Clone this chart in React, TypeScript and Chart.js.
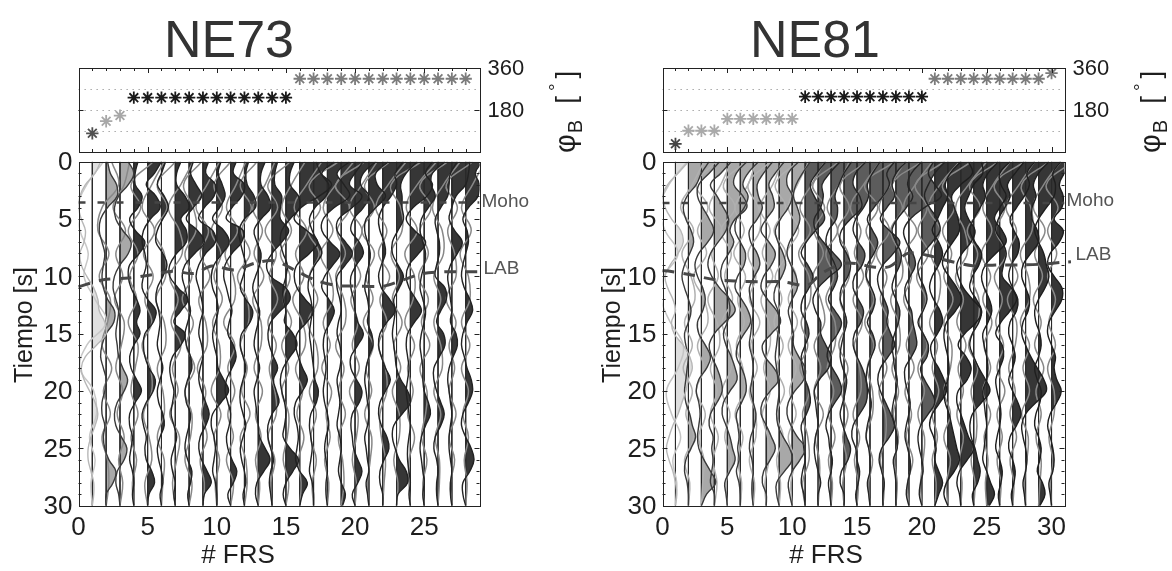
import React, { useEffect, useRef } from 'react';
import { Chart, registerables } from 'chart.js';

Chart.register(...registerables);

const FONT = '"Liberation Sans", Arial, Helvetica, sans-serif';

// ---------------- DATA ----------------
// sample times (s) of the radial (filled) traces and of the grey traces
const TIME_R = [0,1,2,3,4,5,6,7,8,9,10,11,12,13,14,15,16,17,18,19,20,21,22,23,24,25,26,27,28,29,30];
const TIME_T = [0,2,4,6,8,10,12,14,16,18,20,22,24,26,28,30];

// back-azimuth of each receiver function (deg)
const NE73_PHI = [80,132,156,233,233,233,233,233,233,233,233,233,233,233,233,314,314,314,314,314,314,314,314,314,314,314,314,314];
const NE81_PHI = [35,91,91,91,142,142,142,142,142,142,237,237,237,237,237,237,237,237,237,237,314,314,314,314,314,314,314,314,314,338];

// colour group of each trace
const NE73_GROUP = [0,1,1,2,2,2,2,2,2,2,2,2,2,2,2,3,3,3,3,3,3,3,3,3,3,3,3,3];
const NE81_GROUP = [0,1,1,1,1,1,1,1,1,1,2,2,2,2,2,2,2,2,2,2,3,3,3,3,3,3,3,3,3,3];

// Moho / LAB picks (trace position, time s)
const NE73_MOHO_X = [0, 29];
const NE73_MOHO_T = [3.55, 3.55];
const NE81_MOHO_X = [0, 31];
const NE81_MOHO_T = [3.6, 3.6];
const NE73_LAB_X = [0,1.8,3.6,5.1,6.8,8.35,9.66,11.3,12.76,14.2,15.86,17.3,18.7,20.1,22.06,23.5,24.9,26.6,28.26,29];
const NE73_LAB_T = [10.9,10.3,10.15,9.9,9.55,9.75,9.1,9.45,8.85,8.65,9.6,10.4,10.8,10.85,10.85,10.3,9.75,9.6,9.6,9.6];
const NE81_LAB_X = [0,0.45,2.25,4.05,5.6,7.4,9.2,11.2,12.25,14.05,15.3,15.97,17.5,18.9,20.3,22.1,23.9,25.7,27.5,29.05,30.8,31.5];
const NE81_LAB_T = [9.5,9.53,9.88,10.3,10.4,10.47,10.47,10.76,9.74,8.86,8.95,9.15,9.15,8.0,8.13,8.66,9.07,9.0,9.0,8.95,8.78,8.72];

// axis ticks
const TIME_TICKS = [0,5,10,15,20,25,30];
const NE73_X_TICKS = [0,5,10,15,20,25];
const NE81_X_TICKS = [0,5,10,15,20,25,30];
const PHI_LABELS = [180,360];
const PHI_GRID = [90,180,270];

// radial receiver functions, amplitude in trace units, sampled at TIME_R
const NE73_R = [
[0.6,0.2,-0.5,-0.9,-1.0,-0.8,-0.5,-0.6,-0.9,-0.8,-0.4,0.1,0.4,0.5,0.9,1.0,0.3,-0.5,-0.8,-0.6,-0.2,0.2,0.4,0.2,-0.1,-0.3,-0.3,-0.1,0.1,0.1,0],
[0.1,0.3,0.75,0.8,0.1,-0.4,-0.5,-0.3,-0.1,-0.2,-0.3,-0.2,0.1,0.6,0.55,0,-0.3,-0.4,-0.2,0,-0.1,-0.3,-0.3,-0.1,-0.2,-0.1,0.2,0.7,0.5,0,0],
[0.6,1.0,0.6,-0.1,-0.4,-0.3,0.2,0.8,0.6,0,-0.4,-0.5,-0.3,-0.1,-0.2,-0.3,-0.2,-0.1,0.2,0.55,0.3,-0.2,-0.4,-0.3,0.1,0.5,0.3,-0.2,-0.3,-0.1,0],
[0.3,0.1,0.1,0.6,0.3,-0.3,0.1,0.8,0.4,-0.3,-0.4,-0.2,0.2,0.45,0.2,0.45,0,-0.3,-0.2,0.2,0.55,0.1,-0.3,-0.3,-0.1,-0.2,-0.3,-0.1,0,-0.1,0],
[1.0,0.5,-0.1,0.6,0.9,0.2,-0.3,-0.4,-0.2,-0.1,-0.3,-0.4,0,0.6,0.4,-0.2,-0.3,-0.2,0.1,0.55,0.4,-0.1,-0.4,-0.3,-0.1,-0.2,-0.1,0.3,0.5,0.1,0],
[0.3,0,-0.3,0.2,0.5,0.1,-0.3,-0.4,0.1,0.4,0.1,-0.3,-0.4,-0.2,-0.1,-0.2,-0.3,-0.1,0.1,-0.1,-0.3,-0.2,0.1,0.2,-0.1,-0.3,-0.2,0,0.1,-0.1,0],
[0.4,0.1,0.1,0.7,1.0,0.4,0.8,0.8,0.1,-0.4,-0.4,0.2,0.9,0.4,-0.1,0.7,0.4,-0.2,-0.4,-0.3,-0.1,-0.2,-0.3,-0.1,0.1,-0.1,-0.3,-0.2,0,-0.1,0],
[0.3,0.1,0.5,0.9,0.3,-0.2,0.6,1.1,0.4,-0.3,-0.5,-0.3,-0.1,0.1,-0.1,-0.3,-0.2,0.1,0.2,-0.1,-0.3,-0.2,0.1,0,-0.2,-0.3,-0.1,0.2,0.1,-0.1,0],
[0.4,0.2,0.9,0.8,0.1,-0.3,0.7,0.9,0.2,-0.3,-0.5,-0.3,-0.1,0,-0.2,-0.3,-0.1,0,-0.2,-0.3,-0.1,0.2,0.45,0.2,-0.2,-0.3,-0.1,0.3,0.6,0.1,0],
[0.3,0.1,0.4,0.6,0.2,-0.3,0.5,0.9,0.4,-0.2,-0.4,-0.3,0,0.1,-0.1,-0.3,-0.2,0,0.1,0.5,0.85,0.3,-0.3,-0.4,-0.2,-0.1,-0.2,-0.3,-0.1,0,0],
[0.4,0.2,1.0,0.8,0.1,-0.3,0.9,0.8,0.1,-0.4,-0.5,-0.3,-0.1,0.1,-0.1,-0.2,0.2,0.4,0.1,-0.3,-0.4,-0.2,0,-0.1,-0.3,-0.2,0.1,0.45,0.2,-0.2,0],
[0.3,0.1,0.2,0.7,0.8,0,-0.4,-0.3,-0.1,0.1,-0.1,-0.3,0.1,0.6,0.4,-0.2,-0.3,-0.1,0.1,-0.1,-0.3,-0.3,-0.1,0.1,-0.1,-0.3,-0.2,0,0.1,-0.1,0],
[0.5,0.2,0.2,0.7,0.9,0.2,-0.3,-0.1,0.2,0.1,-0.2,-0.4,-0.2,0.1,0,-0.2,-0.3,-0.1,0.1,-0.1,-0.3,-0.2,-0.1,0,0.1,0.5,0.85,0.4,-0.1,-0.2,0],
[0.4,0.2,0.2,0.7,0.6,0.6,1.2,0.7,0,-0.4,-0.1,1.0,1.3,0.6,-0.1,-0.3,-0.2,0.1,0.4,0.1,0.3,0.5,0,-0.3,-0.3,-0.1,0.1,-0.1,-0.2,-0.1,0],
[0.6,0.3,0.3,0.9,1.0,0.3,-0.3,-0.4,-0.2,0.1,0,-0.2,-0.2,0,-0.1,0.5,0.8,0.3,-0.2,-0.4,-0.3,-0.1,0,-0.1,-0.2,0.3,0.9,0.5,0,-0.2,0],
[1.2,1.5,2.3,1.4,0.1,-0.4,0.5,1.3,0.7,-0.2,-0.4,-0.2,0.4,1.0,0.5,-0.2,-0.3,-0.1,0.2,0.55,0.2,-0.3,-0.4,-0.2,-0.1,-0.2,-0.3,0,0.55,0.2,0],
[1.5,0.6,1.1,0.9,0.1,-0.3,-0.1,0.3,0.6,0.1,-0.3,-0.4,-0.2,-0.1,-0.2,-0.3,-0.2,-0.1,0,0.1,0.35,0.2,-0.2,-0.3,-0.2,-0.1,-0.2,-0.3,-0.1,0,0],
[1.6,0.7,1.2,1.6,0.5,-0.3,-0.4,0.2,0.9,0.4,-0.2,-0.4,0.1,0.5,0.2,-0.2,-0.3,-0.2,-0.1,-0.2,-0.3,-0.2,0,0.1,-0.1,-0.2,-0.1,0,-0.1,-0.1,0],
[1.6,1.0,0.6,1.5,0.8,-0.2,-0.3,0.3,0.8,0.3,-0.3,-0.3,-0.1,0,-0.2,-0.3,-0.1,0,-0.1,-0.3,-0.2,-0.1,-0.2,-0.3,-0.1,0,-0.1,-0.2,0,0.3,0.1],
[1.5,0.6,0.4,1.0,0.6,-0.1,-0.3,0.3,0.6,0.1,-0.3,-0.3,-0.1,0,0.2,0.6,0.2,-0.3,-0.3,0.1,0.5,0.3,-0.2,-0.3,-0.2,-0.1,0.2,0.5,0.2,-0.2,0],
[1.4,0.5,0.6,1.2,0.5,-0.2,-0.3,-0.1,0.1,0,-0.2,-0.3,-0.1,0,-0.1,0.2,0.3,0,-0.2,-0.3,-0.2,-0.1,0,-0.1,-0.3,-0.2,-0.1,0,-0.2,-0.1,0],
[1.5,0.9,1.0,0.6,0,-0.3,-0.2,0.1,0.2,-0.1,-0.3,-0.1,0.5,0.9,0.3,-0.2,-0.3,-0.1,0.2,0.55,0.2,-0.2,-0.3,-0.1,0.3,0.45,0.1,-0.2,-0.2,0,0],
[1.5,0.7,0.3,0.4,0.4,0.5,0.1,-0.3,-0.3,0.1,0.5,0.2,-0.2,-0.1,-0.2,-0.3,-0.2,-0.1,0,0.3,0.8,1.0,0.4,-0.2,-0.3,-0.1,0.2,0.7,0.8,0.1,0],
[1.6,1.1,1.6,1.2,0.2,-0.3,0.3,1.1,0.6,-0.1,-0.3,-0.1,0.4,0.8,0.3,-0.2,-0.3,-0.2,-0.1,-0.2,-0.3,-0.2,-0.1,0,-0.1,-0.2,-0.2,-0.1,0,-0.1,0],
[1.5,0.6,0.5,0.8,0.3,-0.2,-0.3,-0.1,0.1,0,-0.2,-0.3,-0.1,0.1,0,-0.2,-0.3,-0.2,-0.1,-0.1,0,0.3,0.45,0.1,-0.2,-0.3,-0.2,-0.1,0,-0.1,0],
[1.4,0.9,0.8,0.7,0.2,-0.2,-0.1,0.1,0.1,-0.1,-0.2,0.5,0.6,0.2,-0.1,0.4,0.5,0.1,-0.3,-0.3,-0.1,0.2,0.45,0.2,-0.2,-0.3,-0.1,0,-0.1,-0.1,0],
[1.3,1.2,1.0,0.3,0,-0.2,0.2,0.75,0.4,-0.1,-0.3,-0.2,-0.1,0,-0.1,0.3,0.4,0.1,-0.2,-0.3,-0.2,-0.1,0,-0.1,-0.2,-0.2,-0.1,0,-0.1,-0.1,0],
[1.2,0.7,1.0,0.9,0.2,-0.2,0.1,0.2,0,-0.2,-0.3,-0.1,0.3,0.5,0.1,-0.2,-0.3,-0.1,0.1,0.4,0.5,0.2,-0.2,-0.3,0,0.4,0.6,0.3,-0.2,-0.2,0],
];

// grey (transverse) traces, sampled at TIME_T
const NE73_T = [
[0.8,-0.4,-1.1,-0.9,-0.3,-0.6,0.2,1.0,-0.4,-0.9,0.1,0.3,-0.2,0.2,-0.1,0],
[0.4,0.9,-0.3,-0.6,0.2,-0.5,0.3,0.1,-0.3,0.4,-0.2,0.3,-0.3,0.1,0.2,0],
[0.7,0.3,-0.5,0.4,-0.3,0.2,-0.4,0.3,0.1,-0.3,0.2,-0.2,0.3,-0.1,0.2,0],
[1.4,-0.2,0.5,-0.4,0.3,-0.3,0.2,-0.4,0.3,0.1,-0.2,0.3,-0.2,0.2,-0.1,0],
[1.2,0.3,-0.4,0.5,-0.3,0.4,-0.2,0.3,-0.4,0.2,0.3,-0.3,0.1,0.3,-0.2,0],
[1.0,-0.3,0.4,-0.5,0.2,0.3,-0.4,0.2,0.3,-0.3,0.1,0.2,-0.3,0.2,0.1,0],
[1.3,0.4,-0.5,0.3,0.5,-0.4,0.2,-0.3,0.4,-0.2,0.2,-0.4,0.3,0.1,-0.2,0],
[0.9,-0.4,0.3,0.5,-0.3,0.2,-0.5,0.3,-0.2,0.4,-0.3,0.2,0.1,-0.3,0.2,0],
[1.2,0.3,-0.5,0.4,-0.2,0.5,-0.3,0.2,0.3,-0.4,0.2,-0.1,0.3,-0.2,0.1,0],
[1.0,-0.2,0.4,-0.4,0.3,-0.2,0.4,-0.3,0.2,0.2,-0.4,0.3,-0.2,0.2,-0.1,0],
[1.1,0.4,-0.3,0.5,-0.4,0.2,0.3,-0.5,0.3,-0.2,0.3,-0.2,0.2,-0.3,0.2,0],
[0.9,-0.3,0.5,-0.2,0.4,-0.5,0.2,0.3,-0.3,0.2,-0.2,0.4,-0.3,0.1,0.2,0],
[1.2,0.5,-0.4,0.3,-0.3,0.4,-0.4,0.2,0.2,-0.3,0.3,-0.2,0.2,-0.2,0.1,0],
[1.3,-0.3,0.4,-0.5,0.3,-0.2,0.4,-0.3,0.3,-0.2,0.2,0.3,-0.3,0.2,-0.1,0],
[1.4,0.4,-0.3,0.4,-0.4,0.3,-0.2,0.4,-0.3,0.2,-0.3,0.2,0.1,-0.2,0.2,0],
[1.6,0.5,-0.4,0.5,-0.3,0.3,-0.5,0.2,0.4,-0.3,0.2,-0.2,0.3,-0.1,0.1,0],
[1.8,-0.3,0.5,-0.4,0.4,-0.3,0.3,-0.4,0.2,0.3,-0.3,0.2,-0.2,0.2,-0.1,0],
[1.9,0.6,-0.3,0.4,-0.5,0.2,0.4,-0.3,0.2,-0.4,0.3,-0.1,0.2,-0.2,0.1,0],
[1.7,-0.4,0.6,-0.3,0.3,-0.4,0.2,0.3,-0.4,0.2,-0.2,0.3,-0.2,0.1,0.2,0],
[1.6,0.5,-0.4,0.5,-0.2,0.4,-0.3,0.2,-0.2,0.3,-0.4,0.2,0.1,-0.2,0.1,0],
[1.5,-0.3,0.4,-0.5,0.4,-0.2,0.3,-0.4,0.3,-0.2,0.2,-0.3,0.2,0.1,-0.1,0],
[1.7,0.4,-0.5,0.3,-0.3,0.5,-0.2,0.3,-0.3,0.2,0.3,-0.2,-0.1,0.2,0.1,0],
[1.8,-0.4,0.3,0.4,-0.4,0.2,-0.3,0.4,-0.2,0.3,-0.3,0.2,0.2,-0.2,0.1,0],
[1.9,0.5,-0.3,0.5,-0.4,0.3,0.2,-0.4,0.3,-0.2,0.2,-0.2,0.3,-0.1,-0.1,0],
[1.7,-0.3,0.5,-0.3,0.3,-0.4,0.3,-0.2,0.4,-0.3,0.2,0.1,-0.2,0.2,-0.1,0],
[1.6,0.4,-0.4,0.3,0.4,-0.3,0.2,-0.3,0.2,0.3,-0.3,0.2,-0.2,0.1,0.1,0],
[1.5,-0.4,0.4,-0.3,0.2,0.3,-0.4,0.3,-0.2,0.2,-0.2,0.3,-0.2,0.2,-0.1,0],
[1.4,0.5,-0.3,0.4,-0.4,0.2,0.3,-0.3,0.3,-0.3,0.2,-0.2,0.2,-0.1,0.1,0],
];

const NE81_R = [
[1.0,0.2,-0.6,-1.0,-0.8,-0.3,0.4,0.6,0.2,-0.4,-0.8,-0.6,-0.2,0,-0.3,-0.1,0.6,1.1,1.3,1.0,0.8,0.5,0.2,-0.2,-0.5,-0.7,-0.5,-0.2,0,0.1,0],
[1.6,1.0,0.6,-0.1,-0.4,-0.2,0.2,0.4,0.1,-0.3,-0.5,-0.3,0,0.2,0,-0.3,-0.2,0,-0.1,-0.2,-0.3,-0.2,0.1,0.3,0.55,0.2,-0.2,-0.3,-0.1,0,0],
[1.4,0.6,-0.2,-0.3,0.1,0.6,0.95,0.5,-0.2,-0.5,-0.3,0.1,0.3,0.1,-0.3,-0.2,0.3,0.7,0.4,-0.2,-0.4,-0.2,-0.1,-0.2,-0.3,-0.2,0.2,0.7,1.1,0.4,0],
[1.3,0.5,-0.3,0.2,0.7,1.1,0.9,0.3,-0.3,-0.5,-0.2,0.4,1.2,1.6,0.8,0,-0.4,-0.2,0.2,0.5,0.6,0.2,-0.3,-0.4,-0.1,-0.2,-0.1,-0.2,-0.3,0,0],
[1.5,0.7,0.5,1.2,1.5,0.6,0.2,0.5,0.1,-0.4,-0.5,-0.2,0.1,0.2,0,-0.3,-0.1,0.3,0.6,0.75,0.2,-0.3,-0.4,-0.1,0.2,0.4,0.6,0.2,-0.2,-0.1,0],
[1.4,0.6,0.2,0.6,0.3,-0.3,-0.4,0,0.4,0.3,-0.2,-0.4,0.1,0.6,0.8,0.3,-0.2,-0.3,0.1,0.4,0.45,0.1,-0.3,-0.2,-0.1,-0.2,-0.1,-0.3,-0.1,0,0],
[1.5,0.8,0.3,0.4,0.7,0.3,-0.3,-0.2,0.3,0.5,0.1,-0.3,-0.2,0,-0.1,-0.2,-0.3,-0.1,0,-0.1,-0.2,0,0.2,0.1,-0.2,-0.3,-0.1,0,-0.1,-0.1,0],
[1.4,0.7,0.2,0.5,0.6,0,-0.4,0.2,0.7,0.4,-0.2,-0.4,0.1,0.8,1.1,0.4,-0.3,-0.1,0.6,0.95,0.3,-0.3,-0.4,0,0.4,0.7,0.3,-0.2,-0.3,0,0],
[1.5,0.7,0.6,1.0,0.7,0.1,-0.3,-0.1,0.3,0.5,0.2,-0.3,-0.4,-0.1,0,-0.1,-0.2,-0.3,-0.2,-0.1,0,-0.1,-0.2,-0.1,0.3,0.8,1.0,0.4,-0.2,-0.2,0],
[1.4,0.8,0.3,0.1,0.4,0.6,0.3,-0.2,-0.4,-0.1,0.3,0.4,0,-0.3,-0.1,0.1,0.1,0.5,1.0,0.9,0.2,-0.3,-0.4,-0.1,0.4,1.0,0.6,0,-0.3,-0.2,0],
[1.6,0.9,0.4,0.7,1.2,1.5,0.8,0.1,-0.3,0.2,0.6,0.3,-0.2,-0.3,0.1,0.3,0,-0.3,-0.2,0,0.3,0.4,0.1,-0.3,-0.2,-0.1,0,-0.2,-0.3,-0.1,0],
[1.7,0.9,0.3,0.4,0.2,-0.3,-0.2,0.4,1.2,1.8,0.9,0,-0.4,-0.2,0.2,0.2,0.6,1.0,0.8,0.1,-0.3,-0.2,-0.1,0,-0.2,-0.3,-0.2,0,0.2,0,0],
[1.6,1.0,0.6,0.3,0.5,0.4,-0.2,-0.4,-0.1,0.3,0.5,0.2,-0.2,0.3,0.8,0.5,-0.1,-0.3,0.1,0.6,0.8,0.3,-0.2,-0.4,-0.2,-0.1,0.1,0,-0.2,-0.1,0],
[1.7,0.9,0.7,1.2,1.35,0.5,-0.2,-0.3,0.2,0.5,0.3,-0.2,-0.3,0,0.2,0,-0.2,-0.3,-0.1,0.2,0.1,-0.1,-0.3,-0.1,0.2,0.5,0.3,-0.2,-0.3,0,0],
[1.8,1.2,0.8,0.9,0.5,-0.1,-0.3,0.1,0.6,0.4,-0.2,-0.3,0.1,0.5,0.3,-0.2,-0.3,0,0.4,0.7,0.8,0.7,0.2,-0.3,-0.4,-0.1,0,0.2,0.1,-0.1,0],
[1.9,1.3,1.5,1.0,0.3,-0.2,0.2,0.6,0.3,-0.2,-0.3,0.1,0.4,0.2,-0.2,0.2,0.4,0.1,-0.2,-0.3,-0.1,0.1,0,-0.2,-0.3,-0.1,0,0,-0.2,-0.1,0],
[1.8,1.0,0.7,0.9,0.3,-0.2,0.5,1.3,0.8,0,-0.4,-0.3,0.1,0.4,0.3,0.6,0.9,0.4,-0.2,-0.4,-0.2,0.2,0.6,0.9,0.5,-0.1,-0.3,-0.1,0.1,0,0],
[2.0,1.2,0.9,1.3,0.8,0.1,-0.3,0,0.4,0.3,-0.1,-0.3,0,0.3,0.2,-0.1,-0.3,-0.2,-0.1,0.1,0,-0.2,-0.3,-0.1,0.1,0.1,-0.2,-0.1,0,0,0],
[1.9,1.5,2.0,2.5,1.2,0.1,-0.4,-0.2,0.3,0.5,0.1,-0.3,-0.2,0.2,0.3,0.5,0.6,0.2,-0.3,-0.3,-0.1,0.1,0,-0.2,-0.3,-0.1,0.1,0.1,-0.1,-0.2,0],
[1.8,1.0,0.5,0.2,0.6,1.2,1.4,0.8,0.1,-0.3,-0.2,0.2,0.4,0.1,-0.3,0.1,0.5,0.4,-0.1,0.2,0.7,1.0,0.5,-0.1,-0.3,-0.2,0,0.1,-0.1,-0.2,0],
[2.0,1.2,0.8,1.0,0.6,0.2,-0.2,0.3,0.6,0.3,-0.2,-0.4,-0.1,0.4,0.6,0.2,-0.3,-0.2,0.3,0.7,0.9,0.4,-0.2,-0.4,-0.1,0.1,0,0.3,0.6,0.3,0],
[1.6,1.9,1.0,0.3,0.5,0.8,0.9,0.4,-0.2,-0.4,0.1,0.7,1.05,0.6,-0.1,-0.3,-0.2,0,0.1,0,-0.3,-0.2,0.1,0.3,0.5,0.7,0.9,0.5,-0.1,-0.3,0],
[1.6,1.7,1.0,0.6,0.3,0.6,1.1,0.8,0.1,-0.3,-0.2,0.2,0.9,1.6,1.2,0.3,-0.2,0.4,0.8,0.5,-0.2,-0.3,0,0.3,0.6,1.0,0.5,-0.1,-0.3,-0.1,0],
[1.9,1.1,0.7,0.9,0.5,0,-0.3,0.1,0.6,0.4,-0.1,-0.3,0.2,0.6,0.4,-0.1,-0.3,0,0.4,0.9,1.25,0.6,-0.1,-0.3,-0.2,0.1,0.3,0.5,0.3,-0.1,0],
[1.8,1.0,1.1,1.5,1.0,0.6,1.2,1.5,0.7,-0.1,-0.4,-0.2,0.2,0.4,0.1,-0.3,-0.2,0,0.1,0,-0.3,-0.2,-0.1,0,-0.1,-0.2,-0.3,0,0.3,0.6,0.2],
[1.9,1.2,0.6,0.8,0.4,-0.1,-0.3,0.2,0.5,0.3,0.2,0.9,1.3,0.8,0.1,-0.3,0.2,0.3,0,-0.3,-0.2,0,0.1,0,-0.2,-0.3,0,0.2,0.1,-0.1,0],
[1.7,1.1,1.3,0.9,0.3,-0.2,0.1,0.5,0.4,-0.1,-0.3,0,0.4,0.3,-0.2,-0.3,0,0.2,0,-0.3,0,0.4,0.65,0.3,-0.2,-0.3,0,0.2,0.1,-0.1,0],
[1.8,1.0,0.6,0.8,0.5,0.5,0.9,1.0,0.4,-0.2,-0.3,0,0.3,0.2,-0.2,-0.3,0,0.4,0.9,1.4,1.6,0.8,0,-0.3,-0.2,0,0.1,0,-0.2,-0.1,0],
[1.7,1.1,1.3,1.2,0.6,0,-0.3,0,0.4,0.6,0.8,0.5,0,-0.3,-0.2,0.1,0.2,0,-0.3,-0.1,0.2,0.1,-0.2,-0.3,0,0.2,0.1,-0.1,0.3,0.5,0.1],
[1.6,1.0,0.6,0.9,0.8,0.2,0.9,0.6,-0.1,-0.3,0.2,0.8,0.8,0.3,-0.2,-0.3,0,0.3,0.2,0.4,0.75,0.4,-0.1,-0.3,-0.1,0.1,0.2,0.1,-0.2,-0.1,0],
];

const NE81_T = [
[0.9,-0.5,-1.2,-0.8,0.2,-0.9,-1.1,-0.4,0.6,0.2,-0.7,-0.3,0.4,-0.2,0.1,0],
[1.2,0.3,-0.6,0.4,-0.5,0.2,0.5,-0.3,0.3,-0.4,0.3,-0.2,0.4,-0.3,0.1,0],
[1.1,-0.4,0.5,-0.3,0.4,-0.6,0.2,0.5,-0.3,0.2,-0.4,0.3,-0.2,0.2,0.1,0],
[1.3,0.5,-0.4,0.6,-0.2,0.3,-0.5,0.2,0.4,-0.3,0.2,-0.3,0.3,-0.1,0.2,0],
[1.4,-0.3,0.6,-0.5,0.3,-0.2,0.4,-0.4,0.2,0.3,-0.4,0.2,-0.2,0.3,-0.1,0],
[1.2,0.6,-0.4,0.3,-0.5,0.4,-0.2,0.3,-0.3,0.2,0.3,-0.4,0.2,-0.2,0.1,0],
[1.3,-0.4,0.4,0.5,-0.4,0.2,-0.3,0.5,-0.2,0.3,-0.3,0.2,0.2,-0.3,0.1,0],
[1.2,0.5,-0.5,0.3,-0.3,0.5,-0.4,0.2,0.3,-0.2,0.3,-0.3,0.1,0.2,-0.1,0],
[1.4,-0.3,0.5,-0.4,0.5,-0.3,0.2,-0.4,0.3,-0.2,0.4,-0.2,0.3,-0.2,0.1,0],
[1.3,0.4,-0.3,0.5,-0.4,0.3,-0.3,0.4,-0.3,0.3,-0.2,0.3,-0.3,0.2,-0.1,0],
[1.5,0.5,-0.4,0.4,-0.5,0.3,0.4,-0.3,0.2,-0.4,0.3,-0.2,0.2,0.3,-0.2,0],
[1.6,-0.4,0.5,-0.3,0.4,-0.4,0.2,0.5,-0.3,0.2,-0.3,0.4,-0.2,0.1,0.1,0],
[1.4,0.6,-0.3,0.5,-0.4,0.2,-0.4,0.3,0.3,-0.3,0.2,-0.2,0.3,-0.2,0.1,0],
[1.7,-0.3,0.4,-0.5,0.3,0.4,-0.3,0.2,-0.4,0.3,-0.2,0.3,-0.1,0.2,-0.1,0],
[1.8,0.5,-0.5,0.3,-0.2,0.5,-0.3,0.4,-0.2,0.2,0.3,-0.3,0.2,-0.2,0.1,0],
[1.9,-0.4,0.6,-0.3,0.4,-0.3,0.3,-0.4,0.3,-0.2,0.2,0.2,-0.3,0.2,-0.1,0],
[1.7,0.6,-0.3,0.5,-0.5,0.3,-0.2,0.4,-0.3,0.3,-0.3,0.2,0.2,-0.2,0.1,0],
[2.0,-0.3,0.5,-0.4,0.3,0.5,-0.4,0.2,0.3,-0.3,0.2,-0.2,0.2,-0.1,0.1,0],
[1.8,0.5,-0.4,0.6,-0.3,0.2,-0.4,0.3,-0.2,0.4,-0.3,0.2,-0.2,0.3,-0.1,0],
[1.7,-0.5,0.4,-0.3,0.5,-0.4,0.3,-0.2,0.4,-0.3,0.2,-0.3,0.2,0.1,-0.1,0],
[1.9,0.4,-0.5,0.4,-0.3,0.4,0.3,-0.4,0.2,-0.2,0.3,-0.2,0.2,-0.2,0.1,0],
[1.8,-0.4,0.5,-0.4,0.3,-0.3,0.4,-0.3,0.3,0.2,-0.3,0.2,-0.3,0.2,-0.1,0],
[2.0,0.6,-0.4,0.3,0.5,-0.4,0.2,-0.3,0.4,-0.2,0.2,-0.3,0.2,-0.1,0.1,0],
[1.9,-0.3,0.5,-0.5,0.3,-0.2,0.4,0.3,-0.4,0.3,-0.2,0.2,0.2,-0.2,0.1,0],
[1.8,0.5,-0.3,0.4,-0.4,0.3,-0.3,0.4,-0.2,0.3,-0.3,0.3,-0.2,0.1,-0.1,0],
[1.9,-0.4,0.4,-0.3,0.5,-0.4,0.2,-0.3,0.3,-0.2,0.4,-0.2,0.2,-0.2,0.1,0],
[1.7,0.5,-0.5,0.3,-0.3,0.4,-0.4,0.3,0.2,-0.3,0.2,-0.2,0.3,-0.2,0.1,0],
[1.8,-0.3,0.4,0.5,-0.4,0.2,0.3,-0.4,0.3,-0.2,0.3,-0.3,0.2,0.1,-0.1,0],
[1.7,0.4,-0.4,0.5,-0.3,0.3,-0.4,0.2,-0.3,0.4,-0.2,0.2,-0.2,0.2,0.1,0],
[1.6,-0.4,0.5,-0.3,0.4,-0.3,0.3,-0.2,0.3,-0.3,0.2,0.2,-0.2,0.1,-0.1,0],
];

// ---------------- STYLES ----------------
const STYLE_NE73 = {
  star: ['#505050', '#a8a8a8', '#1a1a1a', '#7c7c7c'],
  fill: ['#e0e0e0', '#a9a9a9', '#363636', '#363636'],
  line: ['#b8b8b8', '#3a3a3a', '#222222', '#222222'],
  sec: ['#c8c8c8', '#888888', '#888888', '#888888'],
};
const STYLE_NE81 = {
  star: ['#444444', '#aaaaaa', '#1a1a1a', '#7c7c7c'],
  fill: ['#dedede', '#a8a8a8', '#5c5c5c', '#363636'],
  line: ['#b8b8b8', '#3a3a3a', '#252525', '#1e1e1e'],
  sec: ['#c5c5c5', '#b0b0b0', '#888888', '#888888'],
};

const PANELS = [
  {
    key: 'NE73', title: 'NE73', pageLeft: 0, titleX: 229, xLabelX: 238, yLabelX: 25,
    xMax: 29, xTicks: NE73_X_TICKS, plotL: 78.5, plotR: 479.5,
    phi: NE73_PHI, group: NE73_GROUP, prim: NE73_R, sec: NE73_T,
    mohoX: NE73_MOHO_X, mohoT: NE73_MOHO_T, labX: NE73_LAB_X, labT: NE73_LAB_T,
    mohoLabelT: 3.5, labLabelT: 9.3, labLabelDx: 4, style: STYLE_NE73,
  },
  {
    key: 'NE81', title: 'NE81', pageLeft: 586, titleX: 815, xLabelX: 826, yLabelX: 613,
    xMax: 31, xTicks: NE81_X_TICKS, plotL: 662.5, plotR: 1064.5,
    phi: NE81_PHI, group: NE81_GROUP, prim: NE81_R, sec: NE81_T,
    mohoX: NE81_MOHO_X, mohoT: NE81_MOHO_T, labX: NE81_LAB_X, labT: NE81_LAB_T,
    mohoLabelT: 3.45, labLabelT: 8.15, labLabelDx: 11, style: STYLE_NE81,
  },
];

const PANEL_W = 586;
const TOP_H = 160;
const TOP_PLOT_TOP = 68;
const TOP_PLOT_BOTTOM = 154;
const BOT_TOP = 140;
const BOT_H = 431;
const BOT_PLOT_TOP = 161.7;
const BOT_PLOT_BOTTOM = 505.7;
const Y_LABEL_CENTER = 325;

// ---------------- helpers ----------------
function drawBox(ctx, a) {
  ctx.save();
  ctx.strokeStyle = '#222';
  ctx.lineWidth = 1;
  ctx.setLineDash([]);
  ctx.strokeRect(Math.round(a.left) + 0.5, Math.round(a.top) + 0.5, Math.round(a.right) - Math.round(a.left), Math.round(a.bottom) - Math.round(a.top));
  ctx.restore();
}

function bez(a0, c1, c2, a1, u) {
  const v = 1 - u;
  return v * v * v * a0 + 3 * v * v * u * c1 + 3 * v * u * u * c2 + u * u * u * a1;
}

function makeTopPlugin(p) {
  return {
    id: 'top' + p.key,
    beforeDatasetsDraw(chart) {
      const { ctx, chartArea: a, scales } = chart;
      ctx.save();
      ctx.strokeStyle = '#9c9c9c';
      ctx.lineWidth = 1;
      ctx.setLineDash([1.3, 4.7]);
      PHI_GRID.forEach((v) => {
        const py = Math.round(scales.y.getPixelForValue(v)) + 0.5;
        ctx.beginPath();
        ctx.moveTo(a.left, py);
        ctx.lineTo(a.right, py);
        ctx.stroke();
      });
      ctx.restore();
    },
    afterDraw(chart) {
      const { ctx, chartArea: a, scales } = chart;
      drawBox(ctx, a);
      ctx.save();
      ctx.strokeStyle = '#222';
      ctx.lineWidth = 1;
      for (let v = 1; v < p.xMax; v++) {
        const px = Math.round(scales.x.getPixelForValue(v)) + 0.5;
        const len = v % 5 === 0 ? 5 : 3;
        ctx.beginPath();
        ctx.moveTo(px, a.top); ctx.lineTo(px, a.top + len);
        ctx.moveTo(px, a.bottom); ctx.lineTo(px, a.bottom - len);
        ctx.stroke();
      }
      const py180 = Math.round(scales.y.getPixelForValue(180)) + 0.5;
      ctx.beginPath();
      ctx.moveTo(a.left, py180); ctx.lineTo(a.left + 5, py180);
      ctx.moveTo(a.right, py180); ctx.lineTo(a.right - 5, py180);
      ctx.stroke();
      // right tick labels
      ctx.fillStyle = '#1e1e1e';
      ctx.font = '22px ' + FONT;
      ctx.textAlign = 'left';
      ctx.textBaseline = 'middle';
      PHI_LABELS.forEach((v) => {
        ctx.fillText(String(v), a.right + 8, scales.y.getPixelForValue(v) + 1);
      });
      // rotated label  φB [°]  (reads bottom to top)
      ctx.save();
      ctx.translate(a.right + 95, 153);
      ctx.rotate(-Math.PI / 2);
      ctx.textAlign = 'left';
      ctx.textBaseline = 'alphabetic';
      let x = 0;
      ctx.font = '29px ' + FONT;
      ctx.fillText('φ', x, 0); x += ctx.measureText('φ').width + 1;
      ctx.font = '20px ' + FONT;
      ctx.fillText('B', x, 7); x += ctx.measureText('B').width + 16;
      ctx.font = '28px ' + FONT;
      ctx.fillText('[', x, 0); x += ctx.measureText('[').width + 5;
      ctx.font = '19px ' + FONT;
      ctx.fillText('°', x, -13); x += ctx.measureText('°').width + 5;
      ctx.font = '28px ' + FONT;
      ctx.fillText(']', x, 0);
      ctx.restore();
      // title
      ctx.fillStyle = '#333';
      ctx.font = '52px ' + FONT;
      ctx.textAlign = 'center';
      ctx.textBaseline = 'alphabetic';
      ctx.fillText(p.title, p.titleX - p.pageLeft, 57);
      ctx.restore();
    },
  };
}

function makeWigglePlugin(p) {
  return {
    id: 'wig' + p.key,
    beforeDatasetsDraw(chart) {
      const { ctx, chartArea: a, scales } = chart;
      ctx.save();
      ctx.beginPath();
      ctx.rect(a.left, a.top, a.right - a.left, a.bottom - a.top);
      ctx.clip();
      chart.data.datasets.forEach((ds, i) => {
        if (!ds.wiggleFill) return;
        const meta = chart.getDatasetMeta(i);
        const line = meta.dataset;
        const pts = meta.data;
        if (!line || !pts || pts.length < 2) return;
        line.updateControlPoints(a, 'x');
        const bx = scales.x.getPixelForValue(ds.wiggleBase);
        // sample the same bezier curve that Chart.js strokes, clamped at the baseline
        const poly = [[bx, pts[0].y]];
        let any = false;
        for (let k = 0; k < pts.length - 1; k++) {
          const p0 = pts[k];
          const p1 = pts[k + 1];
          const c1x = p0.cp2x !== undefined ? p0.cp2x : p0.x;
          const c1y = p0.cp2y !== undefined ? p0.cp2y : p0.y;
          const c2x = p1.cp1x !== undefined ? p1.cp1x : p1.x;
          const c2y = p1.cp1y !== undefined ? p1.cp1y : p1.y;
          for (let s = 0; s < 12; s++) {
            const u = s / 12;
            const x = bez(p0.x, c1x, c2x, p1.x, u);
            const y = bez(p0.y, c1y, c2y, p1.y, u);
            if (x > bx) any = true;
            poly.push([Math.max(x, bx), y]);
          }
        }
        const last = pts[pts.length - 1];
        poly.push([Math.max(last.x, bx), last.y]);
        poly.push([bx, last.y]);
        if (!any) return;
        ctx.beginPath();
        ctx.moveTo(poly[0][0], poly[0][1]);
        for (let k = 1; k < poly.length; k++) ctx.lineTo(poly[k][0], poly[k][1]);
        ctx.closePath();
        ctx.fillStyle = ds.wiggleFill;
        ctx.fill();
      });
      ctx.restore();
    },
    afterDraw(chart) {
      const { ctx, chartArea: a, scales } = chart;
      drawBox(ctx, a);
      ctx.save();
      ctx.strokeStyle = '#222';
      ctx.lineWidth = 1;
      for (let v = 1; v < 30; v++) {
        const py = Math.round(scales.y.getPixelForValue(v)) + 0.5;
        const len = v % 5 === 0 ? 5 : 3;
        ctx.beginPath();
        ctx.moveTo(a.left, py); ctx.lineTo(a.left + len, py);
        ctx.moveTo(a.right, py); ctx.lineTo(a.right - len, py);
        ctx.stroke();
      }
      ctx.fillStyle = '#1e1e1e';
      ctx.font = '26px ' + FONT;
      ctx.textAlign = 'right';
      ctx.textBaseline = 'middle';
      TIME_TICKS.forEach((v) => ctx.fillText(String(v), a.left - 6, scales.y.getPixelForValue(v) + 1));
      ctx.textAlign = 'center';
      p.xTicks.forEach((v) => ctx.fillText(String(v), scales.x.getPixelForValue(v), a.bottom + 22));
      ctx.font = '26px ' + FONT;
      ctx.fillText('# FRS', p.xLabelX - p.pageLeft, a.bottom + 50);
      ctx.save();
      ctx.translate(p.yLabelX - p.pageLeft, Y_LABEL_CENTER - BOT_TOP);
      ctx.rotate(-Math.PI / 2);
      ctx.font = '25px ' + FONT;
      ctx.fillText('Tiempo [s]', 0, 0);
      ctx.restore();
      ctx.fillStyle = '#555';
      ctx.font = '19px ' + FONT;
      ctx.textAlign = 'left';
      ctx.fillText('Moho', a.right + 2, scales.y.getPixelForValue(p.mohoLabelT));
      ctx.fillText('LAB', a.right + p.labLabelDx, scales.y.getPixelForValue(p.labLabelT));
      ctx.restore();
    },
  };
}

function topConfig(p) {
  const colors = p.group.map((g) => p.style.star[g]);
  return {
    type: 'scatter',
    data: {
      datasets: [{
        data: p.phi.map((v, i) => ({ x: i + 1, y: v })),
        pointStyle: 'star',
        pointRadius: 6.2,
        pointBorderWidth: 1.8,
        pointBorderColor: colors,
        pointBackgroundColor: colors,
        showLine: false,
      }],
    },
    options: {
      animation: false,
      responsive: false,
      events: [],
      layout: { padding: { left: p.plotL - p.pageLeft, right: PANEL_W - (p.plotR - p.pageLeft), top: TOP_PLOT_TOP, bottom: TOP_H - TOP_PLOT_BOTTOM } },
      plugins: { legend: { display: false }, tooltip: { enabled: false }, title: { display: false } },
      scales: {
        x: { type: 'linear', min: 0, max: p.xMax, display: false },
        y: { type: 'linear', min: 0, max: 360, display: false },
      },
    },
    plugins: [makeTopPlugin(p)],
  };
}

function wiggleConfig(p) {
  const datasets = [];
  // Moho and LAB (drawn on top)
  datasets.push({
    data: p.mohoX.map((x, i) => ({ x, y: p.mohoT[i] })),
    showLine: true, pointRadius: 0, borderColor: '#454545', borderWidth: 2.5,
    borderDash: [7, 12], order: 0, fill: false,
  });
  datasets.push({
    data: p.labX.map((x, i) => ({ x, y: p.labT[i] })),
    showLine: true, pointRadius: 0, borderColor: '#484848', borderWidth: 3,
    borderDash: [12, 9], tension: 0.3, order: 0, clip: false, fill: false,
  });
  p.prim.forEach((tr, i) => {
    const g = p.group[i];
    datasets.push({
      data: tr.map((v, k) => ({ x: i + 1 + v, y: TIME_R[k] })),
      showLine: true, pointRadius: 0, borderColor: p.style.line[g], borderWidth: 1.4,
      tension: 0.4, order: 1, fill: false, wiggleFill: p.style.fill[g], wiggleBase: i + 1,
    });
  });
  p.sec.forEach((tr, i) => {
    const g = p.group[i];
    datasets.push({
      data: tr.map((v, k) => ({ x: i + 1 + v, y: TIME_T[k] })),
      showLine: true, pointRadius: 0, borderColor: p.style.sec[g], borderWidth: 1.5,
      tension: 0.4, order: 2, fill: false,
    });
  });
  p.prim.forEach((tr, i) => {
    datasets.push({
      data: [{ x: i + 1, y: 0 }, { x: i + 1, y: 30 }],
      showLine: true, pointRadius: 0, borderColor: '#2a2a2a', borderWidth: 1, order: 3, fill: false,
    });
  });
  return {
    type: 'scatter',
    data: { datasets },
    options: {
      animation: false,
      responsive: false,
      events: [],
      layout: { padding: { left: p.plotL - p.pageLeft, right: PANEL_W - (p.plotR - p.pageLeft), top: BOT_PLOT_TOP - BOT_TOP, bottom: BOT_H - (BOT_PLOT_BOTTOM - BOT_TOP) } },
      plugins: { legend: { display: false }, tooltip: { enabled: false }, title: { display: false } },
      scales: {
        x: { type: 'linear', min: 0, max: p.xMax, display: false },
        y: { type: 'linear', min: 0, max: 30, reverse: true, display: false },
      },
    },
    plugins: [makeWigglePlugin(p)],
  };
}

function ChartCanvas({ makeConfig, left, top, width, height }) {
  const ref = useRef(null);
  useEffect(() => {
    const chart = new Chart(ref.current, makeConfig());
    return () => chart.destroy();
  }, []);
  return (
    <canvas
      ref={ref}
      width={width}
      height={height}
      style={{ position: 'absolute', left, top, width, height, display: 'block' }}
    />
  );
}

export default function App() {
  return (
    <div style={{ position: 'fixed', left: 0, top: 0, width: 1172, height: 571, background: '#ffffff', overflow: 'hidden' }}>
      {PANELS.map((p) => (
        <React.Fragment key={p.key}>
          <ChartCanvas makeConfig={() => wiggleConfig(p)} left={p.pageLeft} top={BOT_TOP} width={PANEL_W} height={BOT_H} />
          <ChartCanvas makeConfig={() => topConfig(p)} left={p.pageLeft} top={0} width={PANEL_W} height={TOP_H} />
        </React.Fragment>
      ))}
    </div>
  );
}
